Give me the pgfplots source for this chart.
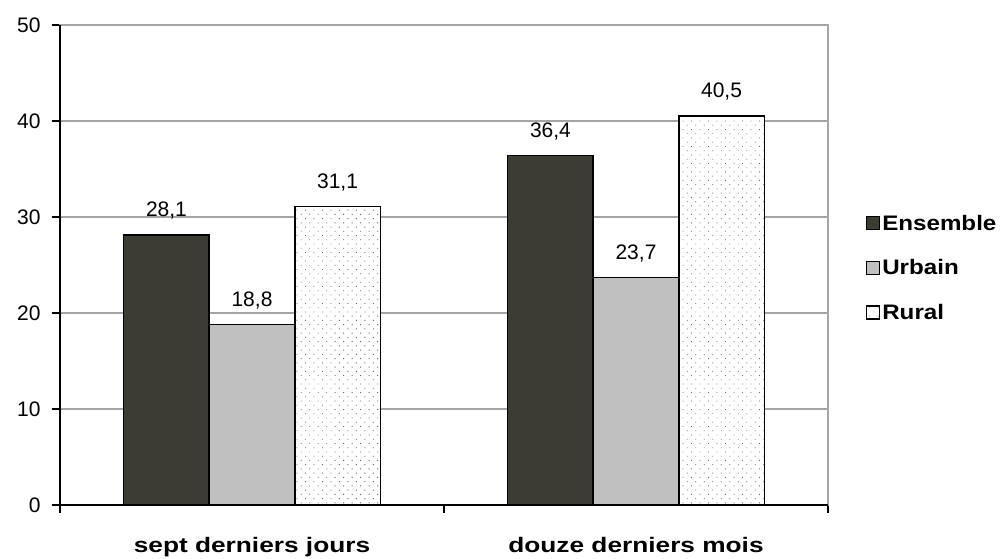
\documentclass[border=0pt]{standalone}
\usepackage{pgfplots}
\pgfplotsset{compat=1.18}
\usetikzlibrary{patterns.meta}
\usepackage{fontspec}
\setmainfont{Liberation Sans}
\newfontfamily\legfont[FakeStretch=1.15]{Liberation Sans}
\newfontfamily\catfont[FakeStretch=1.25]{Liberation Sans}
\definecolor{ens}{RGB}{60,60,51}
\definecolor{urb}{RGB}{192,192,192}
\definecolor{gridc}{RGB}{165,165,165}
\begin{document}
\begin{tikzpicture}
\begin{axis}[name=ax,
  scale only axis, width=768pt, height=480pt,
  ybar=0pt, bar width=0.2227,
  xmin=-0.5, xmax=1.5, ymin=0, ymax=50,
  ytick={0,10,...,50},
  xtick={-0.5,0.5,1.5}, xticklabels={},
  extra x ticks={0,1},
  extra x tick labels={sept derniers jours, douze derniers mois},
  extra x tick style={major tick length=0pt, grid=none,
     tick label style={font=\fontsize{21}{21}\catfont\bfseries, yshift=-29pt}},
  tick align=outside, ytick pos=left, xtick pos=bottom,
  major tick length=8pt,
  tick style={black, line width=1.2pt},
  ymajorgrids, grid style={gridc, line width=1.2pt},
  axis line style={gridc, line width=1.4pt},
  /pgf/number format/assume math mode=true,
  yticklabel style={font=\fontsize{21}{21}\selectfont, xshift=-8pt},
  nodes near coords,
  nodes near coords style={font=\fontsize{21}{21}\selectfont, anchor=south, inner sep=0pt, yshift=15pt,
     /pgf/number format/.cd, fixed, fixed zerofill, precision=1, use comma},
  every axis plot/.append style={draw=black, line width=1.5pt},
  legend style={at={(1,0.494)}, anchor=west, xshift=38pt, draw=none, fill=none,
     inner sep=0pt, outer sep=0pt,
     font=\fontsize{21}{21}\legfont\bfseries, row sep=22pt,
     nodes={inner xsep=2pt, inner ysep=3pt}},
  legend cell align=left,
  legend image code/.code={\draw[#1, line width=1.3pt] (0pt,-6.5pt) rectangle (13pt,6.5pt);},
  clip=false,
]
\addplot[fill=ens] coordinates {(0,28.1) (1,36.4)};
\addplot[fill=urb] coordinates {(0,18.8) (1,23.7)};
\addplot[fill=white, postaction={pattern={Dots[distance=6pt, radius=0.6pt, angle=45]}, pattern color=gray!80!black}] coordinates {(0,31.1) (1,40.5)};
\legend{Ensemble, Urbain, Rural}
\draw[black, line width=1.5pt] (rel axis cs:0,1) -- (rel axis cs:0,0) -- (rel axis cs:1,0);
\end{axis}
\pgfresetboundingbox
\path (ax.south west) ++(-60pt,-53pt) rectangle ++(1004pt,558pt);
\end{tikzpicture}
\end{document}
